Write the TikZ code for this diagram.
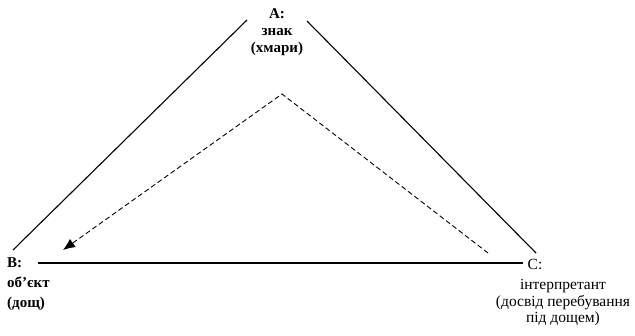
\documentclass[tikz,border=0pt]{standalone}
\usepackage{fontspec}
\setmainfont{Liberation Serif}
\usetikzlibrary{positioning,arrows.meta}

\begin{document}
\begin{tikzpicture}[x=1pt, y=-1pt,
    signtext/.style={inner sep=0pt, font=\fontsize{15.5}{16.5}\selectfont},
    side/.style={line width=1.1pt},
    flow/.style={dashed, dash pattern=on 5pt off 3pt, line width=0.9pt, -{Latex[length=12pt,width=10pt]}}
  ]
  \useasboundingbox (0,0) rectangle (635,335);
  % vertex labels
  \node[signtext, align=center, font=\bfseries\fontsize{15}{17}\selectfont] (A) at (277,32) {A:\\знак\\(хмари)};
  \node[signtext, align=left, anchor=north west, font=\bfseries\fontsize{15}{20}\selectfont] (B) at (7,257) {B:\\об’єкт\\(дощ)};
  \node[signtext, anchor=center] (C) at (535,264) {C:};
  \node[signtext, align=center] (Cdesc) at (563,303) {інтерпретант\\(досвід перебування\\під дощем)};
  % triangle corners
  \coordinate (AL) at (247,20);
  \coordinate (AR) at (307,21);
  \coordinate (BT) at (13,250);
  \coordinate (BR) at (38,263);
  \coordinate (CL) at (523,263);
  \coordinate (CT) at (536,253);
  \draw[side] (BT) -- (AL);
  \draw[side] (AR) -- (CT);
  \draw[side] (BR) -- (CL);
  % semiosis path
  \coordinate (start) at (488,253);
  \coordinate (apex) at (282,94);
  \coordinate (tip) at (63,250);
  \draw[flow] (start) -- (apex) -- (tip);
\end{tikzpicture}
\end{document}
